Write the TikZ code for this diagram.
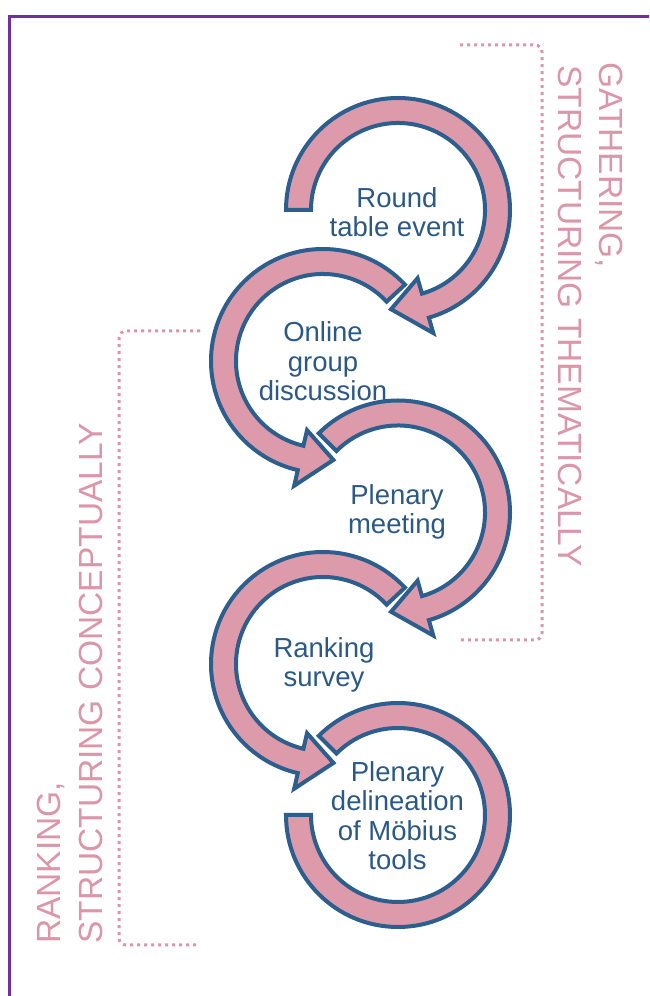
\documentclass[tikz,border=0pt]{standalone}
\usepackage{fontspec}
\setmainfont{Liberation Sans}
\definecolor{ringfill}{HTML}{DC9AAA}
\definecolor{ringline}{HTML}{2C5F8D}
\definecolor{labpink}{HTML}{DB97A9}
\definecolor{framepurple}{HTML}{7030A0}
\definecolor{txtblue}{HTML}{2B5986}
\begin{document}
\begin{tikzpicture}[x=1pt,y=1pt,
  ring/.style={fill=ringfill, draw=ringline, line width=4pt, line join=miter, miter limit=20},
  stepname/.style={text=txtblue, align=center, inner sep=0pt, font=\fontsize{27.5}{29.5}\selectfont},
  sidelab/.style={text=labpink, inner sep=0pt, font=\fontsize{33.5}{40}\selectfont},
  bracketline/.style={draw=labpink, line width=3pt, dash pattern=on 3pt off 4pt, rounded corners=7pt}]
\useasboundingbox (0,0) rectangle (649,996);
\clip (0,0) rectangle (649,996);
\fill[white] (0,0) rectangle (649,996);
\draw[framepurple, line width=3pt] (9,-5) -- (9,979) -- (660,979);

% brackets
\draw[bracketline] (460,951) -- (542,951) -- (542,356) -- (460,356);
\draw[bracketline] (200,665) -- (119,665) -- (119,51) -- (200,51);

% ring 1 (clockwise)
\draw[ring, shift={(398,786)}] (180:112) arc[start angle=180, end angle=-74, radius=112]
  -- (-74:128) -- (-94:99.5) -- (-74:71) -- (-74:87)
  arc[start angle=-74, end angle=180, radius=87] -- cycle;
% ring 2 (counter-clockwise)
\draw[ring, shift={(323,635)}] (43:112) arc[start angle=43, end angle=257, radius=112]
  -- (257:128) -- (276:99.5) -- (257:71) -- (257:87)
  arc[start angle=257, end angle=43, radius=87] -- cycle;
% ring 3 (clockwise)
\draw[ring, shift={(398,483.5)}] (135:112) arc[start angle=135, end angle=-74, radius=112]
  -- (-74:128) -- (-94:99.5) -- (-74:71) -- (-74:87)
  arc[start angle=-74, end angle=135, radius=87] -- cycle;
% ring 4 (counter-clockwise)
\draw[ring, shift={(323,332)}] (43:112) arc[start angle=43, end angle=257, radius=112]
  -- (257:128) -- (276:99.5) -- (257:71) -- (257:87)
  arc[start angle=257, end angle=43, radius=87] -- cycle;
% ring 5 (open ring, no head)
\draw[ring, shift={(398,181)}] (180:112) arc[start angle=180, end angle=495, radius=112]
  -- (495:87) arc[start angle=495, end angle=180, radius=87] -- cycle;

% step texts
\node[stepname] (s1) at (397,784) {Round\\table event};
\node[stepname] (s2) at (323,634.5) {Online\\group\\discussion};
\node[stepname] (s3) at (397,484) {Plenary\\meeting};
\node[stepname] (s4) at (324,331) {Ranking\\survey};
\node[stepname] (s5) at (397.5,180.5) {Plenary\\delineation\\of Möbius\\tools};

% side labels
\node[sidelab, rotate=-90, anchor=base west] (g1) at (599,934) {GATHERING,};
\node[sidelab, rotate=-90, anchor=base west] (g2) at (558,931) {STRUCTURING THEMATICALLY};
\node[sidelab, rotate=90, anchor=base west] (r1) at (60,52) {RANKING,};
\node[sidelab, rotate=90, anchor=base west] (r2) at (102,52) {STRUCTURING CONCEPTUALLY};
\end{tikzpicture}
\end{document}
